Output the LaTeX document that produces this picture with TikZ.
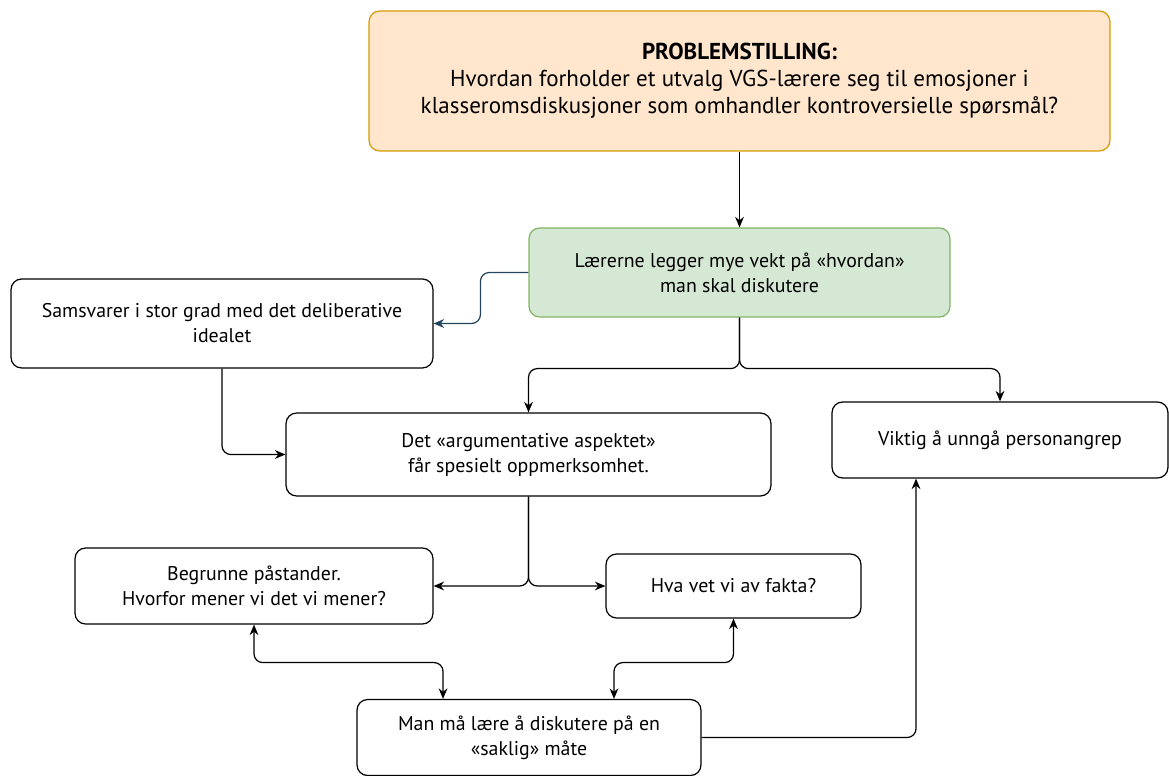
\documentclass[tikz,border=0pt]{standalone}
\usepackage{fontspec}
\setmainfont{PT Sans}
\usepackage{xcolor}
\usetikzlibrary{arrows.meta}
\definecolor{prob}{RGB}{255, 230, 204}
\definecolor{probline}{RGB}{215, 155, 0}
\definecolor{grn}{RGB}{213, 232, 212}
\definecolor{grnline}{RGB}{130, 179, 102}
\definecolor{navy}{RGB}{35, 68, 93}
\tikzset{
  box/.style={draw=black, rounded corners=6pt, line width=0.7pt, align=center,
    font=\fontsize{11.3}{14.2}\selectfont, inner sep=0pt},
  link/.style={-{Stealth[length=6pt,width=5pt]}, line width=0.7pt, rounded corners=5pt},
  both/.style={{Stealth[length=6pt,width=5pt]}-{Stealth[length=6pt,width=5pt]}, line width=0.7pt, rounded corners=5pt}
}

\begin{document}
\begin{tikzpicture}[x=0.02cm, y=-0.02cm]
      \useasboundingbox (0, 0) rectangle (1169, 776);
      % boxes
      \node[box, fill=prob, draw=probline, minimum width=14.82cm, minimum height=2.8cm,
        font=\fontsize{13.1}{15.3}\selectfont] (problem) at (739.5, 81)
        {\textbf{PROBLEMSTILLING:}\\Hvordan forholder et utvalg VGS-lærere seg til emosjoner i\\klasseromsdiskusjoner som omhandler kontroversielle spørsmål?};
      \node[box, fill=grn, draw=grnline, minimum width=8.42cm, minimum height=1.78cm] (hvordan) at (739.5, 272.5)
        {Lærerne legger mye vekt på «hvordan»\\man skal diskutere};
      \node[box, minimum width=8.44cm, minimum height=1.78cm] (ideal) at (222, 323.5)
        {Samsvarer i stor grad med det deliberative\\idealet};
      \node[box, minimum width=9.7cm, minimum height=1.66cm] (aspekt) at (528.5, 454.5)
        {Det «argumentative aspektet»\\får spesielt oppmerksomhet.};
      \node[box, minimum width=6.72cm, minimum height=1.52cm] (angrep) at (1000, 440)
        {Viktig å unngå personangrep};
      \node[box, minimum width=7.16cm, minimum height=1.52cm] (begrunn) at (254, 586)
        {Begrunne påstander.\\Hvorfor mener vi det vi mener?};
      \node[box, minimum width=5.1cm, minimum height=1.28cm] (fakta) at (733.5, 586)
        {Hva vet vi av fakta?};
      \node[box, minimum width=6.88cm, minimum height=1.52cm] (saklig) at (529, 737.5)
        {Man må lære å diskutere på en\\«saklig» måte};
      % connectors
      \draw[link] (problem.south) -- (hvordan.north);
      \draw[link, navy] (hvordan.west) -- ++(-48, 0) |- (ideal.east);
      \draw[link] (hvordan.south) -- ++(0, 51) -| (aspekt.north);
      \draw[link] (hvordan.south) -- ++(0, 51) -| (angrep.north);
      \draw[link] (ideal.south) |- (aspekt.west);
      \draw[link] (aspekt.south) |- (begrunn.east);
      \draw[link] (aspekt.south) |- (fakta.west);
      \draw[both] (begrunn.south) -- ++(0, 38) -| ([xshift=-1.72cm]saklig.north);
      \draw[both] (fakta.south) -- ++(0, 44) -| ([xshift=1.7cm]saklig.north);
      \draw[link] (saklig.east) -| ([xshift=-1.68cm]angrep.south);
    \end{tikzpicture}
\end{document}
